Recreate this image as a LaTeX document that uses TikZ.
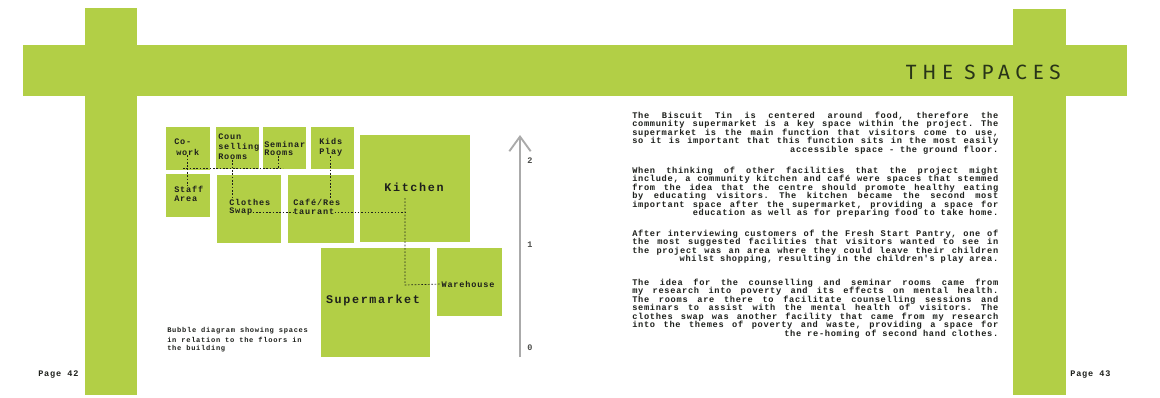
\documentclass[tikz,border=0pt]{standalone}
\usepackage{fontspec}
\setmainfont{Liberation Sans}
\newfontfamily\bodyf[LetterSpace=8]{Liberation Mono}
\newfontfamily\lblf[LetterSpace=10]{Liberation Mono}
\newfontfamily\bigf[LetterSpace=14]{Liberation Mono}
\newfontfamily\titlef[LetterSpace=28]{Fira Sans}
\usetikzlibrary{arrows.meta}
\definecolor{lime}{RGB}{178,207,70}
\definecolor{ink}{RGB}{30,32,28}
\definecolor{titleink}{RGB}{40,52,24}
\definecolor{axisgray}{RGB}{170,170,170}
\newlength{\tw}
\setlength{\tw}{274.5pt}
\newcommand\jl[1]{\hbox to \tw{\spaceskip=0.6em plus 1fil\relax #1}}
\newcommand\rl[1]{\hbox to \tw{\hfill #1}}
\newcommand\parblock[1]{\vbox{\frenchspacing\baselineskip=6.4pt\lineskiplimit=-100pt\lineskip=0pt #1}}
\begin{document}
\begin{tikzpicture}[x=0.75pt,y=-0.75pt,
  room/.style={fill=lime,draw=none},
  lbl/.style={font=\lblf\bfseries\fontsize{6.4}{7.5}\selectfont, text=ink, inner sep=0pt, anchor=west},
  big/.style={font=\bigf\bfseries\fontsize{8.8}{10}\selectfont, text=ink, inner sep=0pt},
  body/.style={font=\bodyf\bfseries\fontsize{6.5}{6.4}\selectfont, text=ink, inner sep=0pt, anchor=north west},
  small/.style={font=\lblf\bfseries\fontsize{5.3}{6.75}\selectfont, text=ink, inner sep=0pt, anchor=west},
  link/.style={draw=ink, line width=0.5pt, dash pattern=on 1.2pt off 1.3pt}]

\useasboundingbox[fill=white] (0,0) rectangle (1160,397);

% green frame bars
\fill[lime] (23,45) rectangle (1127,96);
\fill[lime] (85,8) rectangle (137,395);
\fill[lime] (1013,9) rectangle (1066,395);

% title
\node[font=\titlef\fontsize{15.5}{16}\selectfont, text=titleink, inner sep=0pt, anchor=east] (title) at (1061,72) {THE SPACES};

% rooms
\path[room] (166,127) rectangle (210,170);
\path[room] (216,127) rectangle (259,169);
\path[room] (263,127) rectangle (306,169);
\path[room] (311,127) rectangle (354,169);
\path[room] (166,174) rectangle (210,217);
\path[room] (217,175) rectangle (281,243);
\path[room] (288,175) rectangle (354,243);
\path[room] (360,135) rectangle (470,242);
\path[room] (321,248) rectangle (430,357);
\path[room] (437,248) rectangle (502,316);

% labels
\node[lbl] (co) at (174,142) {Co-};
\node[lbl] (work) at (176,152) {work};
\node[lbl] (coun) at (218,137) {Coun};
\node[lbl] (selling) at (218,147) {selling};
\node[lbl] (rooms1) at (218,157) {Rooms};
\node[lbl] (seminar) at (264,144) {Seminar};
\node[lbl] (rooms2) at (264,153) {Rooms};
\node[lbl] (kids) at (319,141) {Kids};
\node[lbl] (play) at (319,152) {Play};
\node[lbl] (staff) at (174,189) {Staff};
\node[lbl] (area) at (174,199) {Area};
\node[lbl] (clothes) at (229,202) {Clothes};
\node[lbl] (swap) at (229,212) {Swap};
\node[lbl] (cafe) at (293,202) {Café/Res};
\node[lbl] (taurant) at (293,212) {taurant};
\node[big] (kitchen) at (414,187) {Kitchen};
\node[big] (super) at (373,300) {Supermarket};
\node[lbl, anchor=center] (ware) at (468,284) {Warehouse};

% connectors
\coordinate (hl) at (183,168);
\coordinate (hr) at (283,168);
\coordinate (kv) at (405,198);
\coordinate (kw) at (405,285);
\draw[link] (work.south) -- (work.south |- staff.north);
\draw[link] (hl) -- (hr);
\draw[link] (rooms2.south) -- (rooms2.south |- hr);
\draw[link] (rooms1.south) -- (rooms1.south |- clothes.north);
\draw[link] (play.south) -- (play.south |- cafe.north);
\draw[link] (swap.east) -- (taurant.west);
\draw[link] (taurant.east) -- (taurant.east -| kv);
\draw[link] (kv) -- (kw) -- (ware.west);

% floor axis
\coordinate (axb) at (520,357);
\coordinate (axt) at (520,135);
\draw[axisgray, line width=1.4pt, -{Straight Barb[length=11pt,width=16pt,line width=1.4pt]}] (axb) -- (axt);
\node[lbl, text=ink!80] (f2) at (527,161) {2};
\node[lbl, text=ink!80] (f1) at (527,245) {1};
\node[lbl, text=ink!80] (f0) at (527,348) {0};

% caption
\node[small] (cap1) at (167,331) {Bubble diagram showing spaces};
\node[small] (cap2) at (167,340) {in relation to the floors in};
\node[small] (cap3) at (167,349) {the building};

% page numbers
\node[lbl] (pg42) at (38,375) {Page 42};
\node[lbl] (pg43) at (1070,375) {Page 43};

% body text
\node[body] (p1) at (632,111.5) {\parblock{%
\jl{The Biscuit Tin is centered around food, therefore the}
\jl{community supermarket is a key space within the project. The}
\jl{supermarket is the main function that visitors come to use,}
\jl{so it is important that this function sits in the most easily}
\rl{accessible space - the ground floor.}}};
\node[body] (p2) at (632,166.5) {\parblock{%
\jl{When thinking of other facilities that the project might}
\jl{include, a community kitchen and café were spaces that stemmed}
\jl{from the idea that the centre should promote healthy eating}
\jl{by educating visitors. The kitchen became the second most}
\jl{important space after the supermarket, providing a space for}
\rl{education as well as for preparing food to take home.}}};
\node[body] (p3) at (632,229.5) {\parblock{%
\jl{After interviewing customers of the Fresh Start Pantry, one of}
\jl{the most suggested facilities that visitors wanted to see in}
\jl{the project was an area where they could leave their children}
\rl{whilst shopping, resulting in the children's play area.}}};
\node[body] (p4) at (632,278.5) {\parblock{%
\jl{The idea for the counselling and seminar rooms came from}
\jl{my research into poverty and its effects on mental health.}
\jl{The rooms are there to facilitate counselling sessions and}
\jl{seminars to assist with the mental health of visitors. The}
\jl{clothes swap was another facility that came from my research}
\jl{into the themes of poverty and waste, providing a space for}
\rl{the re-homing of second hand clothes.}}};
\end{tikzpicture}
\end{document}
